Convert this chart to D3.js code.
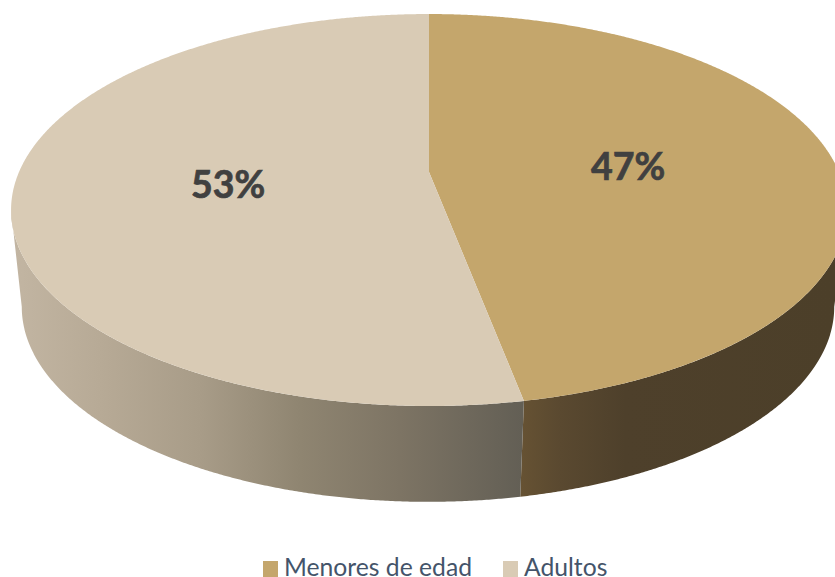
<!DOCTYPE html>
<html><head><meta charset="utf-8">
<script src="https://cdn.jsdelivr.net/npm/d3@7"></script>
<style>html,body{margin:0;padding:0;background:#fff;overflow:hidden}svg{display:block}</style>
</head><body><svg id="c" width="835" height="577"></svg>
<script>
const categories = ["Menores de edad", "Adultos"];
const values = [47, 53];
const labels = ["47%", "53%"];
const topColors = ["#c4a66c", "#d9cbb5"];

const svg = d3.select("#c");
const defs = svg.append("defs");
const W = 835, H = 577;

// perspective projection of a disc
const K = 0.194, rxB = 410, ryA = 188.6;
const topDisc = {cx: 429, y0: 172, sx: 1, sy: 1};
const botDisc = {cx: 428, y0: 269, sx: 0.972, sy: 0.995};
const project = (theta, r, disc) => {
  const u = Math.sin(theta) * r, v = -Math.cos(theta) * r, d = 1 - K * v;
  return [disc.cx + disc.sx * rxB * u / d, disc.y0 + disc.sy * ryA * v / d];
};
const pie = d3.pie().value(d => d).sort(null)(values);
const arcPts = (a0, a1, disc) => {
  const n = Math.max(2, Math.ceil((a1 - a0) / 0.005));
  return d3.range(n + 1).map(i => project(a0 + (a1 - a0) * i / n, 1, disc));
};
const line = d3.line();

// side gradients
const grad = (id, stops) => {
  const g = defs.append("linearGradient").attr("id", id)
    .attr("gradientUnits", "userSpaceOnUse")
    .attr("x1", 0).attr("x2", W).attr("y1", 0).attr("y2", 0);
  stops.forEach(([x, c]) => g.append("stop").attr("offset", x / W).attr("stop-color", c));
};
grad("side0", [[521, "#665233"], [560, "#5a4930"], [625, "#4e402b"], [835, "#4c3f29"]]);
grad("side1", [[15, "#c2b5a2"], [100, "#b7aa96"], [200, "#a89c88"], [300, "#8f8571"], [400, "#7d7464"], [521, "#635f55"]]);

// visible front range: silhouette tangents
const tA = Math.acos(-K), tB = 2 * Math.PI - tA;
svg.append("g").selectAll("path").data(pie).join("path")
  .attr("fill", (d, i) => `url(#side${i})`)
  .attr("d", d => {
    const a0 = Math.max(d.startAngle, tA), a1 = Math.min(d.endAngle, tB);
    return line(arcPts(a0, a1, topDisc).concat(arcPts(a0, a1, botDisc).reverse())) + "Z";
  });

// top faces
svg.append("g").selectAll("path").data(pie).join("path")
  .attr("fill", (d, i) => topColors[i])
  .attr("d", d => line([[topDisc.cx, topDisc.y0]].concat(arcPts(d.startAngle, d.endAngle, topDisc))) + "Z");

// value labels
svg.append("g").selectAll("text").data(pie).join("text")
  .attr("text-anchor", "middle")
  .attr("font-family", "Lato, 'Open Sans', sans-serif")
  .attr("font-weight", 700).attr("font-size", 37.5).attr("fill", "#404040")
  .attr("stroke", "#404040").attr("stroke-width", 0.7)
  .attr("x", d => project((d.startAngle + d.endAngle) / 2, 0.49, topDisc)[0] + 1)
  .attr("y", d => project((d.startAngle + d.endAngle) / 2, 0.49, topDisc)[1] + 17)
  .text((d, i) => labels[i]);

// legend
const legendX = d3.scaleOrdinal().domain(categories).range([263, 503]);
const lg = svg.append("g").selectAll("g").data(categories).join("g")
  .attr("transform", d => `translate(${legendX(d)},561)`);
lg.append("rect").attr("width", 15).attr("height", 16)
  .attr("fill", (d, i) => topColors[i]);
lg.append("text").attr("x", 21).attr("y", 15)
  .attr("font-family", "Lato, 'Open Sans', sans-serif")
  .attr("font-size", 24.7).attr("fill", "#44546a")
  .text(d => d);
</script></body></html>
